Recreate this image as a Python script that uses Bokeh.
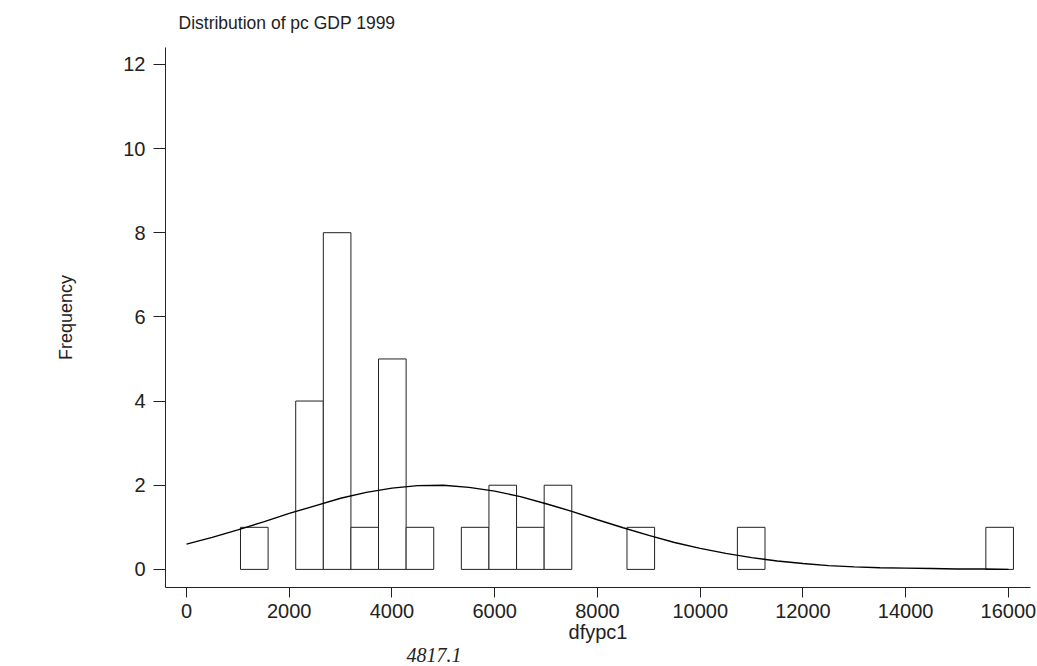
from bokeh.plotting import figure
from bokeh.models import Range1d, ColumnDataSource, FixedTicker, LinearAxis
from bokeh.embed import file_html
from bokeh.resources import INLINE

# ---- data ----
title_text = "Distribution of pc GDP 1999"
x_label = "dfypc1"
y_label = "Frequency"
mean_label = "4817.1"
mean_value = 4817.1

bin_start = 1051.0
bin_width = 537.4
counts = [1, 0, 4, 8, 1, 5, 1, 0, 1, 2, 1, 2, 0, 0, 1, 0, 0, 0, 1, 0, 0, 0, 0, 0, 0, 0, 0, 1]

curve_x = [0, 500, 1000, 1500, 2000, 2500, 3000, 3500, 4000, 4500, 5000, 5500,
           6000, 6500, 7000, 7500, 8000, 8500, 9000, 9500, 10000, 10500, 11000,
           11500, 12000, 12500, 13000, 13500, 14000, 14500, 15000, 15500, 16000]
curve_y = [0.60, 0.76, 0.94, 1.13, 1.33, 1.51, 1.69, 1.83, 1.93, 1.99, 2.00, 1.95,
           1.86, 1.73, 1.56, 1.38, 1.18, 0.99, 0.81, 0.64, 0.50, 0.38, 0.28,
           0.20, 0.14, 0.09, 0.06, 0.04, 0.03, 0.02, 0.01, 0.01, 0.00]

x_ticks = [0, 2000, 4000, 6000, 8000, 10000, 12000, 14000, 16000]
y_ticks = [0, 2, 4, 6, 8, 10, 12]

# ---- build ----
FONT = "Liberation Sans"
INK = "#222222"

lefts, rights, tops = [], [], []
for i, c in enumerate(counts):
    if c > 0:
        lefts.append(bin_start + i * bin_width)
        rights.append(bin_start + (i + 1) * bin_width)
        tops.append(c)
bars = ColumnDataSource(dict(left=lefts, right=rights, top=tops, bottom=[0] * len(tops)))

p = figure(width=1037, height=666,
           x_range=Range1d(-409, 16430), y_range=Range1d(-0.43, 12.4),
           output_backend="svg", toolbar_location=None,
           min_border_left=165, min_border_right=7,
           min_border_top=47, min_border_bottom=79)

p.title.text = title_text
p.title.text_font = FONT
p.title.text_font_size = "17.5px"
p.title.text_font_style = "normal"
p.title.text_color = INK
p.title.align = "left"
p.title.vertical_align = "top"
p.title.offset = 13
p.title.standoff = 25

p.outline_line_color = None
p.xgrid.visible = False
p.ygrid.visible = False
p.background_fill_color = "white"
p.border_fill_color = "white"

p.quad(left="left", right="right", top="top", bottom="bottom", source=bars,
       fill_color="white", line_color=INK, line_width=1)
p.line(curve_x, curve_y, line_color="black", line_width=1.4)

for ax in (p.xaxis[0], p.yaxis[0]):
    ax.axis_line_color = INK
    ax.axis_line_width = 1
    ax.major_tick_line_color = INK
    ax.major_tick_in = 0
    ax.minor_tick_line_color = None
    ax.major_label_text_font = FONT
    ax.major_label_text_font_size = "20px"
    ax.major_label_text_color = INK
    ax.axis_label_text_font = FONT
    ax.axis_label_text_font_style = "normal"
    ax.axis_label_text_color = INK

p.xaxis.ticker = FixedTicker(ticks=x_ticks)
p.yaxis.ticker = FixedTicker(ticks=y_ticks)
p.xaxis.major_tick_out = 10
p.yaxis.major_tick_out = 12
p.xaxis.major_label_standoff = 6
p.yaxis.major_label_standoff = 8

p.xaxis.axis_label = x_label
p.xaxis.axis_label_text_font_size = "20px"
p.xaxis.axis_label_standoff = 0

p.yaxis.axis_label = y_label
p.yaxis.axis_label_text_font_size = "18px"
p.yaxis.axis_label_standoff = 44

# mean value written under the axis, at the mean's position
mean_axis = LinearAxis(ticker=FixedTicker(ticks=[mean_value]),
                       major_label_overrides={mean_value: mean_label},
                       axis_line_color=None, major_tick_line_color=None,
                       minor_tick_line_color=None, major_tick_out=0, major_tick_in=0,
                       major_label_standoff=2,
                       major_label_text_font="Liberation Serif",
                       major_label_text_font_style="italic",
                       major_label_text_font_size="20px",
                       major_label_text_color=INK)
p.add_layout(mean_axis, "below")

open("out.html", "w").write(file_html(p, INLINE))
